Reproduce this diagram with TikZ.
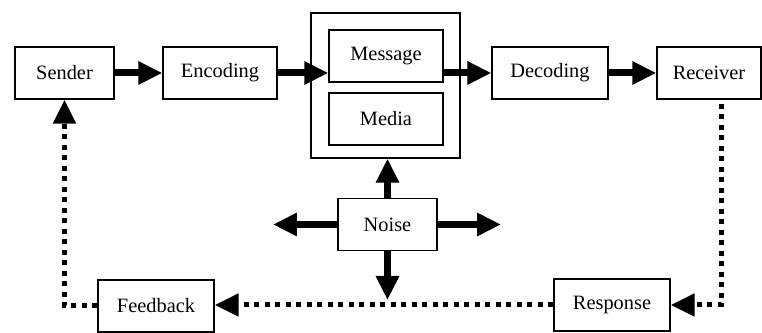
\documentclass[tikz,border=0pt]{standalone}
\usepackage{fontspec}
\setmainfont{Liberation Serif}
\usepackage{tikz}
\usetikzlibrary{arrows.meta,positioning,calc}

\begin{document}
\begin{tikzpicture}[x=0.02cm, y=-0.02cm,
  box/.style={rectangle, draw=black, line width=0.75pt, minimum height=1.04cm, font=\fontsize{11.6}{13}\selectfont},
  flow/.style={line width=0.14cm, -{Triangle[length=0.48cm,width=0.44cm]}},
  back/.style={line width=0.1cm, dash pattern=on 0.1cm off 0.11cm, -{Triangle[length=0.48cm,width=0.44cm]}}]
  \useasboundingbox (0,0) rectangle (762,333);

  \node (Sender) [box, minimum width=1.98cm] at (64.5,73) {Sender};
  \node (Encoding) [box, minimum width=2.28cm] at (220,73) {Encoding};
  \node (Channel) [box, minimum width=2.98cm, minimum height=2.9cm] at (385.5,85.5) {};
  \node (Message) [box, minimum width=2.28cm] at (386,56) {Message};
  \node (Media) [box, minimum width=2.28cm] at (386,119) {Media};
  \node (Decoding) [box, minimum width=2.32cm] at (550,73) {Decoding};
  \node (Receiver) [box, minimum width=2.08cm] at (709,73) {Receiver};
  \node (Noise) [box, minimum width=1.98cm] at (387.5,224.5) {Noise};
  \node (Response) [box, minimum width=2.32cm] at (612,305) {Response};
  \node (Feedback) [box, minimum width=2.32cm] at (156,306) {Feedback};

  \coordinate (noiseL) at (273,224.5);
  \coordinate (noiseR) at (501,224.5);
  \coordinate (noiseD) at (387.5,300);
  \coordinate (loopR) at (721,104);

  % forward path
  \draw [flow] (Sender) -- (Encoding);
  \draw [flow] (Encoding.east) -- (Encoding.east -| Message.west);
  \draw [flow] (Message.east |- Decoding.west) -- (Decoding.west);
  \draw [flow] (Decoding) -- (Receiver);

  % noise
  \draw [flow] (Noise.north) -- (Channel.south -| Noise.north);
  \draw [flow] (Noise.west) -- (noiseL);
  \draw [flow] (Noise.east) -- (noiseR);
  \draw [flow] (Noise.south) -- (noiseD);

  % feedback loop
  \draw [back] (loopR) |- (Response.east);
  \draw [back] (Response.west) -- (Response.west -| Feedback.east);
  \draw [back] (Feedback.west) -| (Sender.south);
\end{tikzpicture}
\end{document}
